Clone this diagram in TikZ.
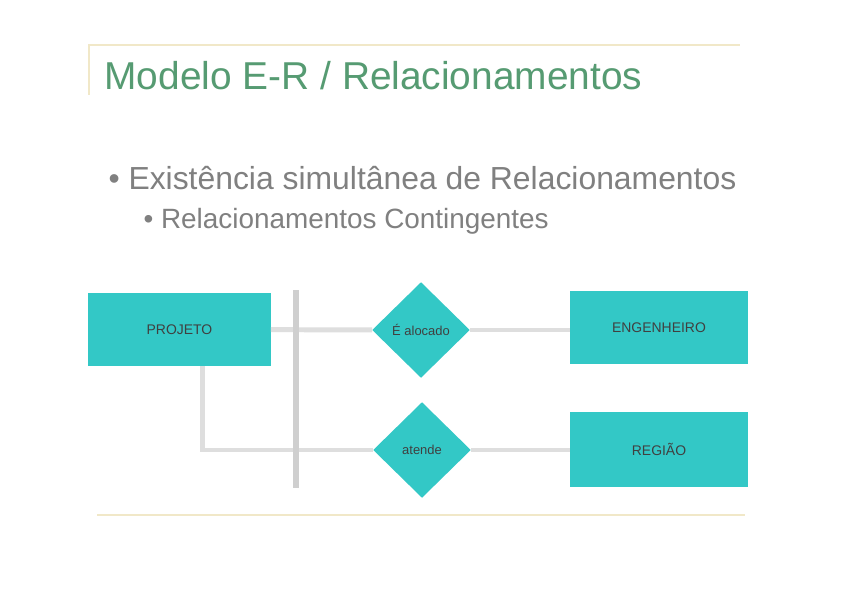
\documentclass[tikz,border=0pt]{standalone}
\usepackage{fontspec}
\setmainfont{Liberation Sans}
\usepackage{tikz}
\usetikzlibrary{shapes.geometric}

\definecolor{entcolor}{HTML}{33C8C6}
\definecolor{linecolor}{HTML}{DEDEDE}
\definecolor{barcolor}{HTML}{CFCFCF}
\definecolor{rulecolor}{HTML}{F1E8C8}
\definecolor{titlecolor}{HTML}{569B72}
\definecolor{bulletcolor}{HTML}{808080}

\tikzset{
  entity/.style={rectangle, fill=entcolor, inner sep=0pt, font=\fontsize{14}{16}\selectfont, text=black!75},
  relation/.style={diamond, fill=entcolor, inner sep=0pt, minimum width=98, minimum height=96, font=\fontsize{13}{15}\selectfont, text=black!75},
  link/.style={draw=linecolor, line width=5},
}

\begin{document}
\begin{tikzpicture}[x=1bp, y=-1bp]
        \useasboundingbox[fill=white] (0,0) rectangle (842,595);

        % title and rules
        \draw[rulecolor, line width=3] (88,45) -- (740,45);
        \draw[rulecolor, line width=2] (89,45) -- (89,95);
        \draw[rulecolor, line width=3] (97,515) -- (745,515);
        \node[anchor=base west, text=titlecolor, font=\fontsize{39}{42}\selectfont] (title) at (101,90) {Modelo E-R / Relacionamentos};

        % bullets
        \node[anchor=base west, text=bulletcolor, font=\fontsize{32}{36}\selectfont] (b1) at (105,190) {\textbullet\ Existência simultânea de Relacionamentos};
        \node[anchor=base west, text=bulletcolor, font=\fontsize{28}{32}\selectfont] (b2) at (140,229) {\textbullet\ Relacionamentos Contingentes};

        % entities and relationships
        \node[entity, minimum width=183, minimum height=73] (projeto) at (179.5,329.5) {PROJETO};
        \node[entity, minimum width=178, minimum height=73] (engenheiro) at (659,327.5) {ENGENHEIRO};
        \node[entity, minimum width=178, minimum height=75] (regiao) at (659,449.5) {REGIÃO};
        \node[relation] (alocado) at (421,330) {É alocado};
        \node[relation] (atende) at (422,450) {atende};

        \coordinate (bartop) at (296,290);
        \coordinate (barbot) at (296,488);

        \draw[link] (projeto) -- (alocado);
        \draw[link] (alocado) -- (alocado -| engenheiro.west);
        \draw[link] ([xshift=23.5]projeto.south) |- (atende);
        \draw[link] (atende) -- (atende -| regiao.west);
        \draw[draw=barcolor, line width=7] (bartop) -- (barbot);
    \end{tikzpicture}
\end{document}
